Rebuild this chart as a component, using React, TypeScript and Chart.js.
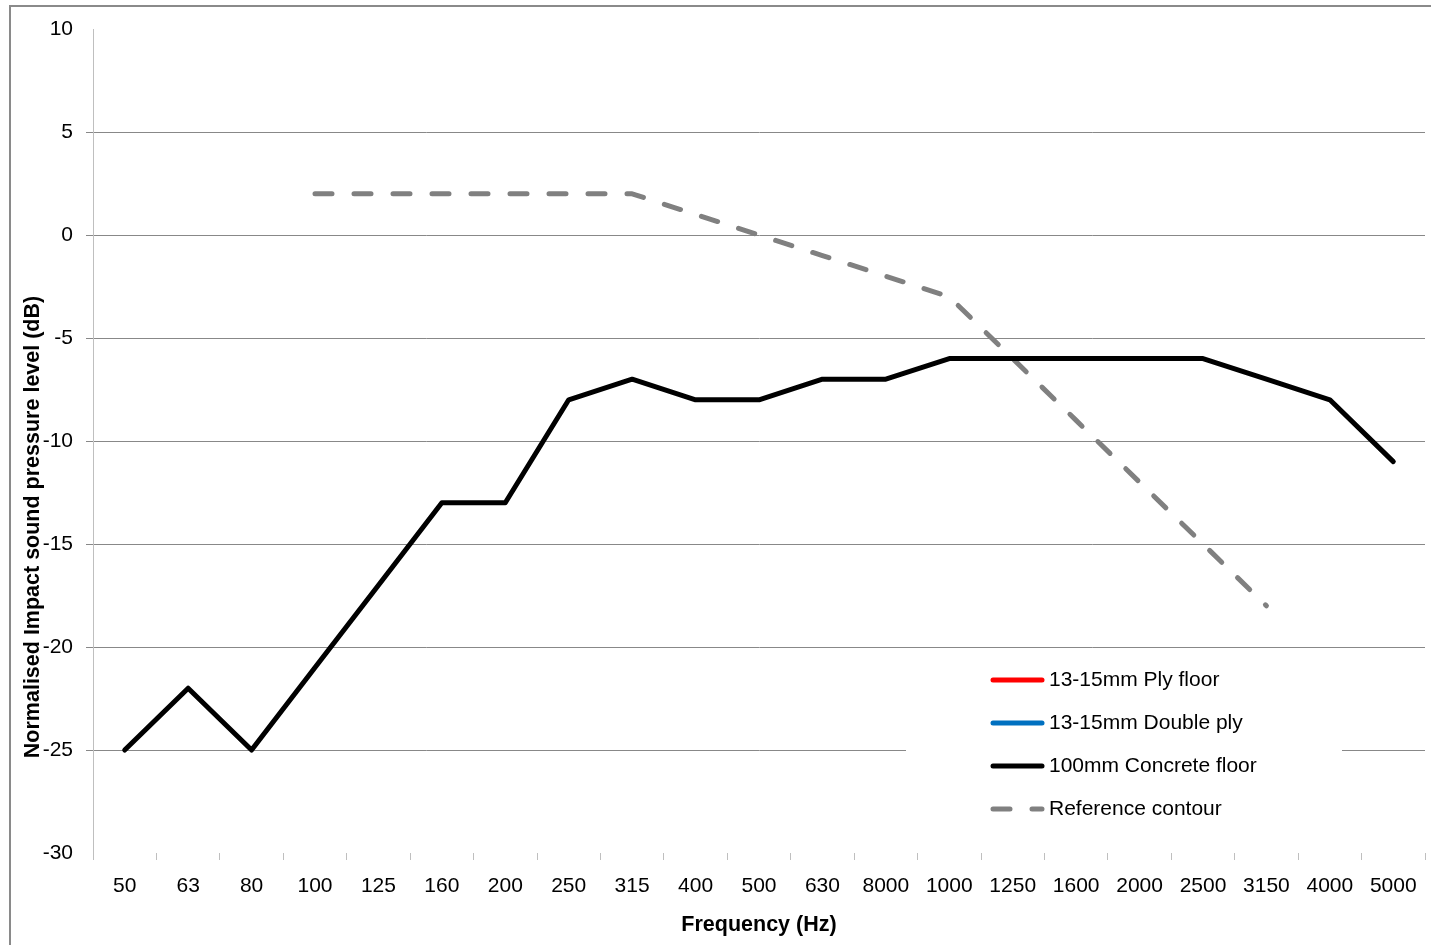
import React, { useEffect, useRef } from 'react';
import { Chart, registerables } from 'chart.js';

Chart.register(...registerables);

const frequencies = ['50', '63', '80', '100', '125', '160', '200', '250', '315', '400', '500', '630', '8000', '1000', '1250', '1600', '2000', '2500', '3150', '4000', '5000'];
const plyFloor: (number | null)[] = [];
const doublePly: (number | null)[] = [];
const concreteFloor = [-25, -22, -25, -21, -17, -13, -13, -8, -7, -8, -8, -7, -7, -6, -6, -6, -6, -6, -7, -8, -11];
const referenceContour = [null, null, null, 2, 2, 2, 2, 2, 2, 1, 0, -1, -2, -3, -6, -9, -12, -15, -18, null, null];
const yMin = -30;
const yMax = 10;
const yStep = 5;

const FONT = "'Liberation Sans', Arial, sans-serif";

const framePlugin = {
  id: 'frame',
  afterDraw(chart: any) {
    const ctx = chart.ctx;
    ctx.save();
    ctx.strokeStyle = '#8a8a8a';
    ctx.lineWidth = 2;
    ctx.beginPath();
    ctx.moveTo(10, chart.height);
    ctx.lineTo(10, 6);
    ctx.lineTo(chart.width, 6);
    ctx.stroke();
    // y axis title
    ctx.translate(33, 527);
    ctx.rotate(-Math.PI / 2);
    ctx.fillStyle = '#000';
    ctx.font = `bold 21.5px ${FONT}`;
    ctx.textAlign = 'center';
    ctx.textBaseline = 'middle';
    ctx.fillText('Normalised Impact sound pressure level (dB)', 0, 0);
    ctx.restore();
  },
};

const legendPlugin = {
  id: 'insideLegend',
  afterDatasetsDraw(chart: any) {
    const ctx = chart.ctx;
    const area = chart.chartArea;
    ctx.save();
    ctx.fillStyle = '#ffffff';
    ctx.fillRect(area.right - 519, area.bottom - 198, 436, 180);
    chart.data.datasets.forEach((ds: any, i: number) => {
      const y = area.bottom - 173 + i * 43;
      const x0 = area.right - 432;
      ctx.beginPath();
      ctx.strokeStyle = ds.borderColor;
      ctx.lineWidth = 5;
      ctx.lineCap = 'round';
      ctx.setLineDash(ds.borderDash || []);
      ctx.moveTo(x0, y);
      ctx.lineTo(x0 + 49, y);
      ctx.stroke();
      ctx.setLineDash([]);
      ctx.fillStyle = '#000';
      ctx.font = `21px ${FONT}`;
      ctx.textAlign = 'left';
      ctx.textBaseline = 'middle';
      ctx.fillText(ds.label, x0 + 56, y);
    });
    ctx.restore();
  },
};

export default function App() {
  const ref = useRef<HTMLCanvasElement>(null);
  useEffect(() => {
    document.body.style.margin = '0';
    const canvas = ref.current!;
    Chart.defaults.font.family = FONT;
    Chart.defaults.color = '#000';
    const chart = new Chart(canvas, {
      type: 'line',
      data: {
        labels: frequencies,
        datasets: [
          { label: '13-15mm Ply floor', data: plyFloor, borderColor: '#ff0000', borderWidth: 5 },
          { label: '13-15mm Double ply', data: doublePly, borderColor: '#0070c0', borderWidth: 5 },
          { label: '100mm Concrete floor', data: concreteFloor, borderColor: '#000000', borderWidth: 5 },
          { label: 'Reference contour', data: referenceContour, borderColor: '#808080', borderWidth: 5, borderDash: [17, 22], borderCapStyle: 'round' },
        ] as any,
      },
      options: {
        animation: false,
        responsive: false,
        maintainAspectRatio: false,
        layout: { padding: { left: 0, top: 29, right: 6, bottom: 0 } },
        elements: {
          point: { radius: 0 },
          line: { tension: 0, borderJoinStyle: 'round', borderCapStyle: 'round', fill: false },
        },
        plugins: {
          legend: { display: false },
          tooltip: { enabled: false },
        },
        scales: {
          x: {
            offset: true,
            grid: { offset: true, drawOnChartArea: false, drawTicks: true, tickLength: 7, color: '#bfbfbf' },
            border: { display: false },
            ticks: { autoSkip: false, maxRotation: 0, padding: 14, font: { size: 21 } },
            title: { display: true, text: 'Frequency (Hz)', font: { size: 21.5, weight: 'bold' }, padding: { top: 0, bottom: 7 } },
            afterFit: (s: any) => { s.height = 92; },
          },
          y: {
            min: yMin,
            max: yMax,
            ticks: { stepSize: yStep, padding: 13, font: { size: 21 } },
            grid: {
              tickLength: 7,
              color: (c: any) => (c.tick && (c.tick.value === yMax || c.tick.value === yMin) ? 'rgba(0,0,0,0)' : '#888888'),
            },
            border: { display: true, color: '#bfbfbf', width: 1 },
            afterFit: (s: any) => { s.width = 93; },
          },
        },
      } as any,
      plugins: [legendPlugin, framePlugin],
    });
    return () => chart.destroy();
  }, []);
  return <canvas ref={ref} width={1431} height={945} style={{ display: 'block' }} />;
}
